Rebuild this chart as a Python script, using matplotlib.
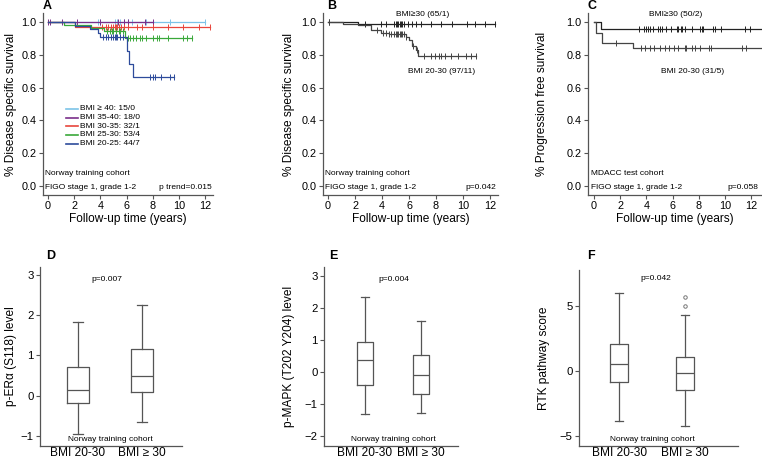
import numpy as np
import matplotlib
matplotlib.use('Agg')
import matplotlib.pyplot as plt

plt.rcParams['font.family'] = ['Liberation Sans', 'DejaVu Sans']

# ---- panel A: KM by BMI group (event times, survival after event, censor times)
a_labels = ['BMI \u2265 40: 15/0', 'BMI 35-40: 18/0', 'BMI 30-35: 32/1',
            'BMI 25-30: 53/4', 'BMI 20-25: 44/7']
a_colors = ['#7cc3e8', '#7a2f8a', '#e8453c', '#3aa83a', '#2d4b9b']
a_events = [[], [], [2.1], [1.2, 3.3, 4.3, 5.9],
            [2.1, 3.2, 3.8, 4.0, 6.0, 6.2, 6.5]]
a_surv = [[], [], [0.97], [0.98, 0.965, 0.945, 0.905],
          [0.975, 0.955, 0.93, 0.91, 0.825, 0.745, 0.665]]
a_cens = [
    [3.8, 4.0, 5.1, 5.3, 5.5, 5.8, 6.1, 6.4, 7.5, 9.3, 12.0],
    [0.0, 0.15, 1.05, 2.2, 4.0, 5.35, 5.8, 6.1, 7.4, 8.0],
    [4.1, 4.4, 4.6, 4.8, 5.0, 5.1, 5.2, 5.3, 5.4, 5.6, 5.8, 6.1, 6.8, 7.2,
     8.0, 9.2, 10.3, 11.5, 12.4],
    [4.5, 4.7, 4.9, 5.0, 5.2, 5.4, 5.5, 5.7, 6.1, 6.3, 6.5, 6.7, 7.0, 7.2,
     7.5, 8.0, 8.3, 8.5, 9.2, 10.3, 10.6, 11.0],
    [4.2, 4.4, 4.6, 4.8, 5.0, 5.1, 5.2, 5.3, 5.5, 5.7, 7.8, 8.0, 8.2, 8.6,
     9.3, 9.6],
]

# ---- panel B
b_events = [[2.2], [1.1, 2.2, 3.2, 3.9, 4.5, 5.8, 6.0, 6.2, 6.5, 6.7]]
b_surv = [[0.985], [0.99, 0.98, 0.95, 0.935, 0.925, 0.91, 0.89, 0.855, 0.83, 0.79]]
b_cens = [
    [0.1, 2.7, 3.9, 4.3, 4.9, 5.0, 5.1, 5.2, 5.3, 5.4, 5.5, 5.6, 5.9, 6.2,
     6.5, 6.9, 7.6, 8.4, 9.2, 10.3, 10.9, 11.6, 12.4],
    [0.1, 3.6, 4.1, 4.3, 4.5, 4.7, 4.9, 5.0, 5.1, 5.2, 5.3, 5.4, 5.5, 5.6,
     5.8, 6.3, 6.6, 7.1, 7.6, 7.9, 8.2, 8.4, 8.7, 9.1, 9.6, 10.2, 10.6, 11.0],
]

# ---- panel C
c_events = [[0.55], [0.15, 0.6, 3.0]]
c_surv = [[0.96], [0.935, 0.87, 0.84]]
c_cens = [
    [3.4, 3.8, 4.0, 4.1, 4.3, 4.5, 4.9, 5.0, 5.2, 5.5, 5.9, 6.3, 6.4, 6.6,
     6.7, 6.9, 7.5, 8.1, 8.2, 8.3, 9.1, 9.2, 9.7, 11.5, 11.9, 12.8],
    [1.7, 3.6, 3.9, 4.3, 4.6, 5.0, 5.4, 5.7, 6.1, 6.4, 6.9, 7.0, 7.5, 7.7,
     8.1, 8.8, 8.9, 11.3, 11.6, 12.8],
]

# ---- box plots: whislo, q1, med, q3, whishi (+ fliers)
box_groups = ['BMI 20-30', 'BMI \u2265 30']
d_stats = [[-0.95, -0.17, 0.15, 0.72, 1.83], [-0.65, 0.10, 0.50, 1.17, 2.25]]
e_stats = [[-1.30, -0.40, 0.38, 0.95, 2.35], [-1.27, -0.70, -0.10, 0.53, 1.60]]
f_stats = [[-3.85, -0.85, 0.55, 2.10, 6.0], [-4.20, -1.45, -0.15, 1.05, 4.30]]
f_fliers = [[], [5.0, 5.7]]

W, H = 762, 462
fig = plt.figure(figsize=(W / 100, H / 100), dpi=100)


def px_axes(l, t, r, b):
    return fig.add_axes([l / W, 1 - b / H, (r - l) / W, (b - t) / H])


def style(ax):
    for s in ['top', 'right']:
        ax.spines[s].set_visible(False)
    for s in ['left', 'bottom']:
        ax.spines[s].set_color('#555555')
        ax.spines[s].set_linewidth(0.9)
    ax.tick_params(length=3, width=0.8, color='#555555', pad=1.5)


def km(ax, events, surv, cens, color, lw=0.9):
    last = max(cens + events)
    x = [0] + events + [last]
    y = [1.0] + surv + [surv[-1] if surv else 1.0]
    ax.step(x, y, where='post', color=color, lw=lw)
    ev = np.array(events)
    sv = np.array([1.0] + surv)
    cy = [sv[np.searchsorted(ev, t, side='right')] for t in cens]
    ax.plot(cens, cy, ls='none', marker='|', ms=4, mew=0.7, color=color)


def km_axes(ax, ylabel, lx):
    style(ax)
    ax.set_xlim(-0.38, 12.6)
    ax.set_ylim(-0.055, 1.055)
    ax.set_xticks(range(0, 13, 2))
    ax.set_yticks(np.arange(0, 1.01, 0.2))
    ax.set_yticklabels(['%.1f' % v for v in np.arange(0, 1.01, 0.2)])
    ax.tick_params(labelsize=7.8)
    ax.set_xlabel('Follow-up time (years)', fontsize=8.6, labelpad=1)
    ax.set_ylabel(ylabel, fontsize=8.6)
    ax.yaxis.set_label_coords(lx, 0.5)


# panel A
axA = px_axes(43, 13, 213, 195)
km_axes(axA, '% Disease specific survival', -0.155)
for ev, sv, cs, col in zip(a_events, a_surv, a_cens, a_colors):
    km(axA, ev, sv, cs, col)
for i, (col, lab) in enumerate(zip(a_colors, a_labels)):
    yy = 0.47 - i * 0.053
    axA.plot([1.37, 2.3], [yy, yy], color=col, lw=1.2)
    axA.text(2.45, yy, lab, fontsize=6, va='center')
axA.text(-0.2, 0.075, 'Norway training cohort', fontsize=6, va='center')
axA.text(-0.2, -0.01, 'FIGO stage 1, grade 1-2', fontsize=6, va='center')
axA.text(12.5, -0.01, 'p trend=0.015', fontsize=6, va='center', ha='right')
fig.text(43 / W, 1 - 6 / H, 'A', fontsize=9, fontweight='bold', va='center')

# panel B
axB = px_axes(323, 13, 498, 195)
km_axes(axB, '% Disease specific survival', -0.16)
km(axB, b_events[0], b_surv[0], b_cens[0], '#222222')
km(axB, b_events[1], b_surv[1], b_cens[1], '#444444')
axB.text(7.0, 1.045, 'BMI\u226530 (65/1)', fontsize=6, ha='center', va='center')
axB.text(8.4, 0.70, 'BMI 20-30 (97/11)', fontsize=6, ha='center', va='center')
axB.text(-0.2, 0.075, 'Norway training cohort', fontsize=6, va='center')
axB.text(-0.2, -0.01, 'FIGO stage 1, grade 1-2', fontsize=6, va='center')
axB.text(12.5, -0.01, 'p=0.042', fontsize=6, va='center', ha='right')
fig.text(327 / W, 1 - 6 / H, 'B', fontsize=9, fontweight='bold', va='center')

# panel C
axC = px_axes(588, 13, 762, 195)
km_axes(axC, '% Progression free survival', -0.23)
axC.set_xlim(-0.45, 12.8)
km(axC, c_events[0], c_surv[0], c_cens[0], '#222222')
km(axC, c_events[1], c_surv[1], c_cens[1], '#444444')
axC.text(6.2, 1.045, 'BMI\u226530 (50/2)', fontsize=6, ha='center', va='center')
axC.text(7.5, 0.70, 'BMI 20-30 (31/5)', fontsize=6, ha='center', va='center')
axC.text(-0.2, 0.075, 'MDACC test cohort', fontsize=6, va='center')
axC.text(-0.2, -0.01, 'FIGO stage 1, grade 1-2', fontsize=6, va='center')
axC.text(12.5, -0.01, 'p=0.058', fontsize=6, va='center', ha='right')
fig.text(587 / W, 1 - 6 / H, 'C', fontsize=9, fontweight='bold', va='center')


def boxes(ax, stats, fliers, ylabel, lx, ylim, yticks, xlim, bw, ptext, px, py):
    style(ax)
    bx = []
    for st, fl in zip(stats, fliers):
        bx.append(dict(whislo=st[0], q1=st[1], med=st[2], q3=st[3], whishi=st[4],
                       fliers=fl))
    lc = '#555555'
    ax.bxp(bx, positions=[1, 2], widths=bw, capwidths=bw * 0.45, showfliers=True,
           boxprops=dict(color=lc, lw=0.9), medianprops=dict(color=lc, lw=0.9),
           whiskerprops=dict(color=lc, lw=0.9), capprops=dict(color=lc, lw=0.9),
           flierprops=dict(marker='o', ms=2.5, mfc='none', mec='#777777', mew=0.7))
    ax.set_xlim(*xlim)
    ax.set_ylim(*ylim)
    ax.set_yticks(yticks)
    ax.set_xticks([1, 2])
    ax.set_xticklabels(box_groups, fontsize=8.6)
    ax.tick_params(axis='y', labelsize=8.2)
    ax.tick_params(axis='x', length=0, pad=1)
    ax.set_ylabel(ylabel, fontsize=8.6)
    ax.yaxis.set_label_coords(lx, 0.5)
    ax.text(px, py, ptext, fontsize=6, ha='center', va='center')
    ax.text(1.5, ylim[0] + 0.035 * (ylim[1] - ylim[0]), 'Norway training cohort',
            fontsize=6, ha='center', va='center')


axD = px_axes(40, 267, 182, 446)
boxes(axD, d_stats, [[], []], 'p-ER\u03b1 (S118) level', -0.16, (-1.25, 3.2),
      [-1, 0, 1, 2, 3], (0.41, 2.62), 0.34, 'p=0.007', 1.45, 2.9)
fig.text(46 / W, 1 - 256 / H, 'D', fontsize=9, fontweight='bold', va='center')

axE = px_axes(324, 267, 458, 446)
boxes(axE, e_stats, [[], []], 'p-MAPK (T202 Y204) level', -0.215, (-2.31, 3.28),
      [-2, -1, 0, 1, 2, 3], (0.27, 2.66), 0.30, 'p=0.004', 1.52, 2.9)
fig.text(329 / W, 1 - 256 / H, 'E', fontsize=9, fontweight='bold', va='center')

axF = px_axes(579, 270, 738, 446)
boxes(axF, f_stats, f_fliers, 'RTK pathway score', -0.18, (-5.76, 7.75),
      [-5, 0, 5], (0.39, 2.8), 0.27, 'p=0.042', 1.56, 7.06)
fig.text(587 / W, 1 - 256 / H, 'F', fontsize=9, fontweight='bold', va='center')

fig.savefig('out.png', dpi=100)
